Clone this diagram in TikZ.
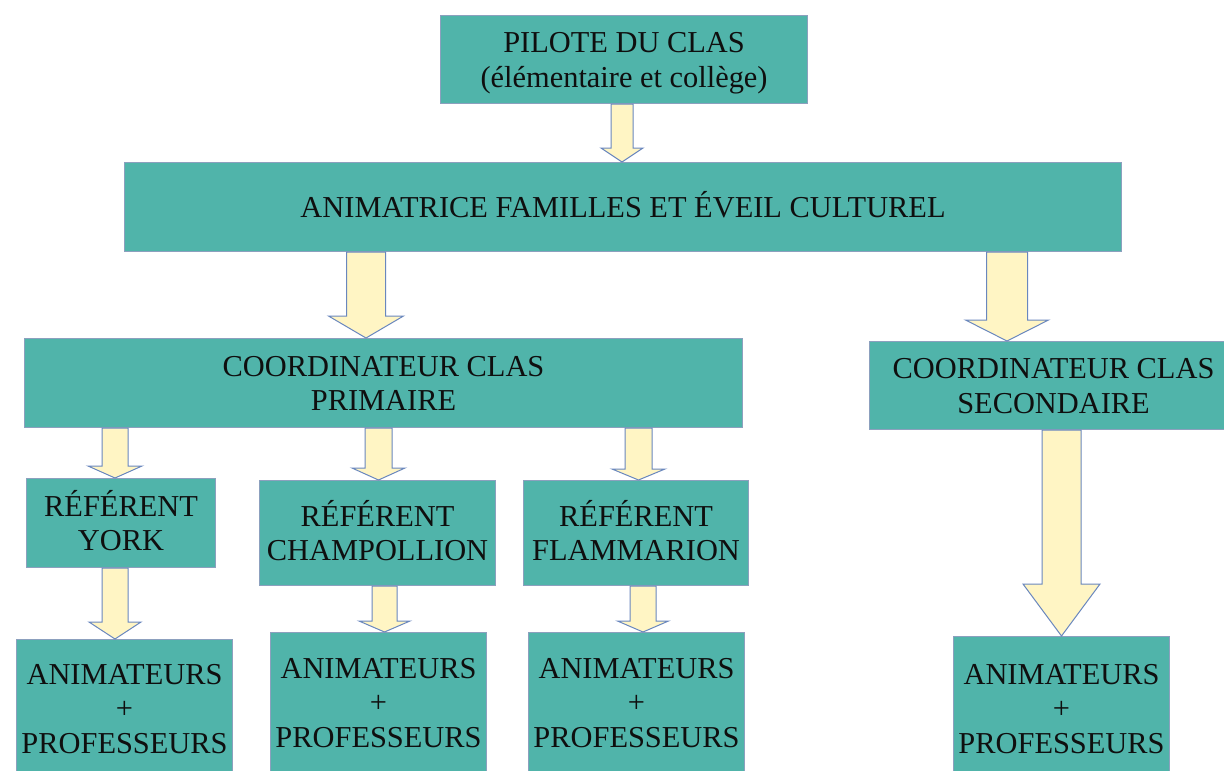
\documentclass[tikz,border=0pt]{standalone}
\usepackage{fontspec}
\setmainfont{Liberation Serif}
\usetikzlibrary{calc}
\definecolor{boxfill}{RGB}{80,180,170}
\definecolor{boxline}{RGB}{140,160,190}
\definecolor{arrfill}{RGB}{255,245,196}
\definecolor{arrline}{RGB}{105,135,190}
\definecolor{txt}{RGB}{15,15,15}
\newcommand\lstrut{\rule[-6.6pt]{0pt}{33.7pt}}
\tikzset{
  orgbox/.style={draw=boxline, line width=1.1pt, fill=boxfill, anchor=north west,
    inner sep=0pt, align=center, text=txt,
    font=\fontsize{30.4pt}{34.5pt}\selectfont},
  blockarrow/.style={draw=arrline, line width=1pt, fill=arrfill, line join=miter}
}
% #1 x centre, #2 source node, #3 target node, #4 shaft half width, #5 head half width, #6 head length
\newcommand\blockarr[6]{%
  \draw[blockarrow] let \p1=(#2.south), \p2=(#3.north) in
    ({(#1-#4)*1pt},\y1) -- ({(#1-#4)*1pt},{\y2+#6pt}) -- ({(#1-#5)*1pt},{\y2+#6pt})
    -- ({#1*1pt},\y2) -- ({(#1+#5)*1pt},{\y2+#6pt}) -- ({(#1+#4)*1pt},{\y2+#6pt})
    -- ({(#1+#4)*1pt},\y1) -- cycle;}
\begin{document}
\begin{tikzpicture}[x=1pt,y=-1pt]
\useasboundingbox[fill=white] (0,0) rectangle (1224,771);
% boxes
\node[orgbox, minimum width=367pt, minimum height=88pt] (pilote) at (440,15)
  {\lstrut PILOTE DU CLAS\\\lstrut(élémentaire et collège)};
\node[orgbox, minimum width=997pt, minimum height=89pt] (anim) at (124,162)
  {\lstrut ANIMATRICE FAMILLES ET ÉVEIL CULTUREL};
\node[orgbox, minimum width=718pt, minimum height=89pt] (prim) at (24,338)
  {\lstrut COORDINATEUR CLAS\\\lstrut PRIMAIRE};
\node[orgbox, minimum width=368pt, minimum height=88pt] (sec) at (869,341)
  {\lstrut COORDINATEUR CLAS\\\lstrut SECONDAIRE};
\node[orgbox, minimum width=189pt, minimum height=89pt] (york) at (26,478)
  {\lstrut RÉFÉRENT\\\lstrut YORK};
\node[orgbox, minimum width=236pt, minimum height=105pt] (champ) at (259,480)
  {\lstrut RÉFÉRENT\\\lstrut CHAMPOLLION};
\node[orgbox, minimum width=225pt, minimum height=105pt] (flam) at (523,480)
  {\lstrut RÉFÉRENT\\\lstrut FLAMMARION};
\node[orgbox, minimum width=216pt, minimum height=138pt] (a1) at (16,639)
  {\lstrut ANIMATEURS\\\lstrut +\\\lstrut PROFESSEURS};
\node[orgbox, minimum width=216pt, minimum height=140pt] (a2) at (270,632)
  {\lstrut ANIMATEURS\\\lstrut +\\\lstrut PROFESSEURS};
\node[orgbox, minimum width=216pt, minimum height=140pt] (a3) at (528,632)
  {\lstrut ANIMATEURS\\\lstrut +\\\lstrut PROFESSEURS};
\node[orgbox, minimum width=216pt, minimum height=144pt] (a4) at (953,636)
  {\lstrut ANIMATEURS\\\lstrut +\\\lstrut PROFESSEURS};
% arrows
\blockarr{622}{pilote}{anim}{11}{21}{14}
\blockarr{366}{anim}{prim}{19.5}{37.5}{22}
\blockarr{1007}{anim}{sec}{20.5}{41.5}{21}
\blockarr{115}{prim}{york}{13}{27}{12}
\blockarr{378.5}{prim}{champ}{13.5}{26.5}{12}
\blockarr{638.5}{prim}{flam}{13.5}{26.5}{11}
\blockarr{115}{york}{a1}{13}{26}{17}
\blockarr{384.5}{champ}{a2}{12.5}{25.5}{11}
\blockarr{643}{flam}{a3}{13}{25.5}{11}
\blockarr{1061.5}{sec}{a4}{19.5}{38.5}{52}
\end{tikzpicture}
\end{document}
